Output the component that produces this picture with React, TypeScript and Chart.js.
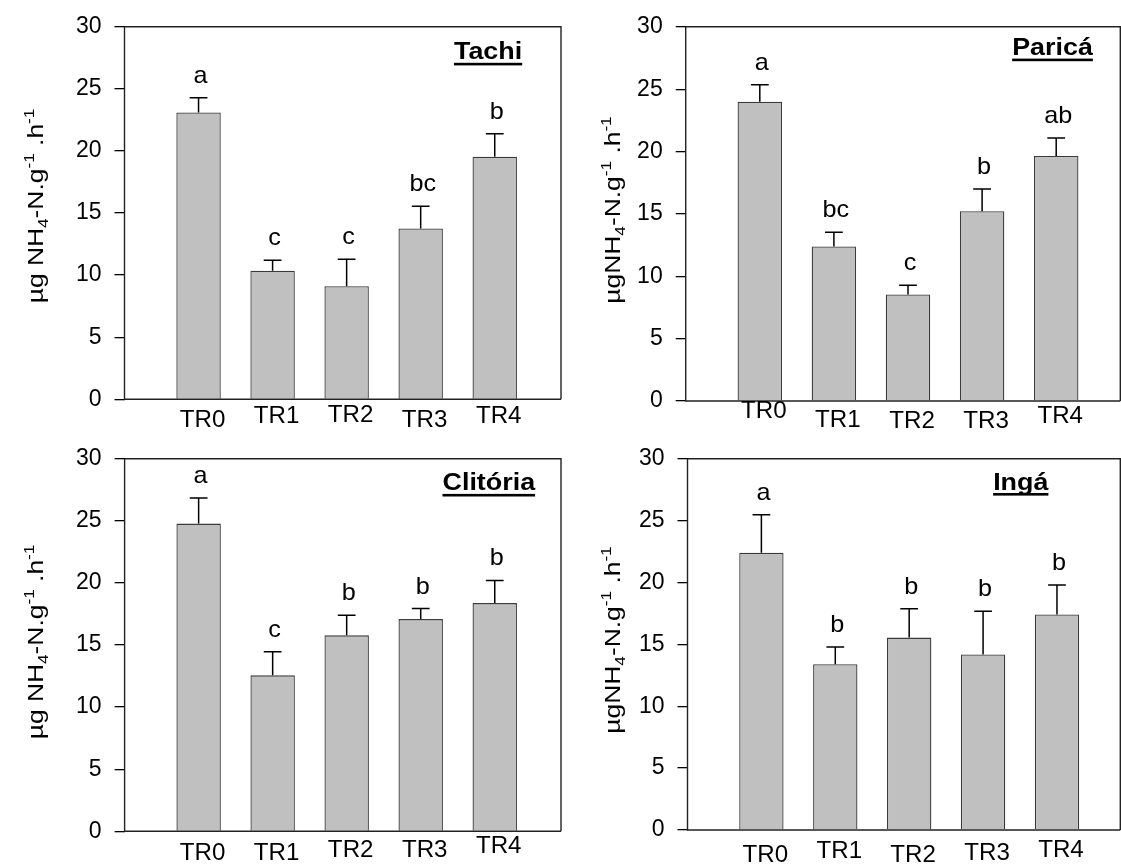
import React, { useEffect, useRef } from 'react';
import { Chart, registerables } from 'chart.js';

Chart.register(...registerables);

const FONT = '"Liberation Sans", Arial, Helvetica, sans-serif';

const CATEGORIES = ['TR0', 'TR1', 'TR2', 'TR3', 'TR4'];
const X_POSITIONS = [1, 2, 3, 4, 5];
const Y_TICKS = [0, 5, 10, 15, 20, 25, 30];

const TACHI_MEAN = [23.1, 10.36, 9.1, 13.76, 19.54];
const TACHI_SE = [1.18, 0.84, 2.18, 1.79, 1.84];
const TACHI_LETTERS = ['a', 'c', 'c', 'bc', 'b'];

const PARICA_MEAN = [23.99, 12.39, 8.54, 15.21, 19.64];
const PARICA_SE = [1.37, 1.13, 0.74, 1.79, 1.45];
const PARICA_LETTERS = ['a', 'bc', 'c', 'b', 'ab'];

const CLITORIA_MEAN = [24.78, 12.56, 15.78, 17.09, 18.38];
const CLITORIA_SE = [2.06, 1.9, 1.63, 0.85, 1.82];
const CLITORIA_LETTERS = ['a', 'c', 'b', 'b', 'b'];

const INGA_MEAN = [22.41, 13.4, 15.55, 14.18, 17.42];
const INGA_SE = [3.07, 1.39, 2.34, 3.5, 2.39];
const INGA_LETTERS = ['a', 'b', 'b', 'b', 'b'];

type Part = [string, 'n' | 'sub' | 'sup'];
const Y_TITLE_SPACED: Part[] = [['µg NH', 'n'], ['4', 'sub'], ['-N.g', 'n'], ['-1', 'sup'], [' .h', 'n'], ['-1', 'sup']];
const Y_TITLE_TIGHT: Part[] = [['µgNH', 'n'], ['4', 'sub'], ['-N.g', 'n'], ['-1', 'sup'], [' .h', 'n'], ['-1', 'sup']];

interface Box { left: number; top: number; width: number; height: number }
interface PlotBox { left: number; top: number; right: number; bottom: number }
interface Panel {
  title: string;
  mean: number[];
  se: number[];
  letters: string[];
  yTitle: Part[];
  canvas: Box;
  plot: PlotBox;
  xMax: number;
  titleX: number;
  titleDy: number;
  yTitleX: number;
  yTitleY: number;
  labelDy: number[];
}

const PANELS: Panel[] = [
  {
    title: 'Tachi', mean: TACHI_MEAN, se: TACHI_SE, letters: TACHI_LETTERS, yTitle: Y_TITLE_SPACED,
    canvas: { left: 0, top: 0, width: 580, height: 432 },
    plot: { left: 124.5, top: 20, right: 561, bottom: 399.3 }, xMax: 5.895,
    titleX: 4.91, titleDy: 32.5, yTitleX: 43, yTitleY: 206, labelDy: [27.7, 24, 22.7, 27.7, 23.7],
  },
  {
    title: 'Paricá', mean: PARICA_MEAN, se: PARICA_SE, letters: PARICA_LETTERS, yTitle: Y_TITLE_TIGHT,
    canvas: { left: 580, top: 0, width: 541, height: 432 },
    plot: { left: 685.7, top: 21.7, right: 1120.3, bottom: 401 }, xMax: 5.865,
    titleX: 4.95, titleDy: 28.3, yTitleX: 620, yTitleY: 210, labelDy: [17, 26, 27, 27, 22],
  },
  {
    title: 'Clitória', mean: CLITORIA_MEAN, se: CLITORIA_SE, letters: CLITORIA_LETTERS, yTitle: Y_TITLE_SPACED,
    canvas: { left: 0, top: 432, width: 580, height: 433 },
    plot: { left: 124.6, top: 451.7, right: 561, bottom: 831.3 }, xMax: 5.895,
    titleX: 4.92, titleDy: 31.6, yTitleX: 43, yTitleY: 642, labelDy: [28.7, 28.7, 25.7, 25.7, 21.7],
  },
  {
    title: 'Ingá', mean: INGA_MEAN, se: INGA_SE, letters: INGA_LETTERS, yTitle: Y_TITLE_TIGHT,
    canvas: { left: 580, top: 432, width: 541, height: 433 },
    plot: { left: 687.5, top: 449.3, right: 1120.3, bottom: 830 }, xMax: 5.857,
    titleX: 4.51, titleDy: 30.7, yTitleX: 620, yTitleY: 640, labelDy: [32, 28, 32, 30, 27],
  },
];

function drawStretched(ctx: CanvasRenderingContext2D, text: string, x: number, y: number, font: string, sx: number) {
  ctx.save();
  ctx.font = font;
  ctx.textAlign = 'center';
  ctx.textBaseline = 'alphabetic';
  ctx.fillStyle = '#000';
  ctx.translate(x, y);
  ctx.scale(sx, 1);
  ctx.fillText(text, 0, 0);
  const w = ctx.measureText(text).width * sx;
  ctx.restore();
  return w;
}

function drawYTitle(ctx: CanvasRenderingContext2D, parts: Part[], bx: number, cy: number, size: number, sx: number) {
  const small = size * 0.65;
  ctx.save();
  ctx.translate(bx, cy);
  ctx.rotate(-Math.PI / 2);
  ctx.scale(sx, 1);
  ctx.fillStyle = '#000';
  ctx.textAlign = 'left';
  ctx.textBaseline = 'alphabetic';
  let total = 0;
  parts.forEach(([t, k]) => {
    ctx.font = `${k === 'n' ? size : small}px ${FONT}`;
    total += ctx.measureText(t).width;
  });
  let x = -total / 2;
  parts.forEach(([t, k]) => {
    ctx.font = `${k === 'n' ? size : small}px ${FONT}`;
    const dy = k === 'sub' ? size * 0.22 : k === 'sup' ? -size * 0.42 : 0;
    ctx.fillText(t, x, dy);
    x += ctx.measureText(t).width;
  });
  ctx.restore();
}

function makeDecor(p: Panel) {
  return {
    id: 'panelDecor',
    afterDatasetsDraw(chart: any) {
      const ctx: CanvasRenderingContext2D = chart.ctx;
      const xs = chart.scales.x;
      const ys = chart.scales.y;
      const area = chart.chartArea;
      const meta = chart.getDatasetMeta(0);
      ctx.save();
      meta.data.forEach((el: any, i: number) => {
        const top = ys.getPixelForValue(p.mean[i] + p.se[i]);
        const half = el.width * 0.2;
        ctx.strokeStyle = '#000';
        ctx.lineWidth = 1.5;
        ctx.beginPath();
        ctx.moveTo(el.x, el.y);
        ctx.lineTo(el.x, top);
        ctx.moveTo(el.x - half, top);
        ctx.lineTo(el.x + half, top);
        ctx.stroke();
        drawStretched(ctx, p.letters[i], el.x + 2, top - 15, `24px ${FONT}`, 1.05);
      });
      ctx.strokeStyle = '#222';
      ctx.lineWidth = 1.4;
      ctx.beginPath();
      ctx.moveTo(area.left, area.top);
      ctx.lineTo(area.left, area.bottom);
      ctx.lineTo(area.right, area.bottom);
      ctx.moveTo(area.left, area.top);
      ctx.lineTo(area.right, area.top);
      ctx.lineTo(area.right, area.bottom);
      ctx.stroke();
      CATEGORIES.forEach((c, i) => {
        const x = xs.getPixelForValue(X_POSITIONS[i]) + 4;
        drawStretched(ctx, c, x, area.bottom + p.labelDy[i], `23px ${FONT}`, 1.05);
      });
      const tx = xs.getPixelForValue(p.titleX);
      const ty = area.top + p.titleDy;
      const w = drawStretched(ctx, p.title, tx, ty, `bold 24px ${FONT}`, 1.12);
      ctx.fillStyle = '#000';
      ctx.fillRect(tx - w / 2, ty + 3.5, w, 2.6);
      drawYTitle(ctx, p.yTitle, p.yTitleX - p.canvas.left, p.yTitleY - p.canvas.top, 22, 1.2);
      ctx.restore();
    },
  };
}

function PanelChart({ p }: { p: Panel }) {
  const ref = useRef<HTMLCanvasElement>(null);
  useEffect(() => {
    const c = p.canvas;
    const chart = new Chart(ref.current as HTMLCanvasElement, {
      type: 'bar',
      data: {
        datasets: [
          {
            data: X_POSITIONS.map((x, i) => ({ x, y: p.mean[i] })) as any,
            backgroundColor: '#c0c0c0',
            borderColor: '#3a3a3a',
            borderWidth: 1.3,
            barPercentage: 0.6,
            categoryPercentage: 1,
          },
        ],
      },
      options: {
        responsive: false,
        animation: false,
        devicePixelRatio: 1,
        layout: {
          padding: { left: 0, top: p.plot.top - c.top, right: c.left + c.width - p.plot.right, bottom: 0 },
        },
        plugins: { legend: { display: false }, tooltip: { enabled: false } },
        scales: {
          x: {
            type: 'linear',
            min: 0,
            max: p.xMax,
            offset: false,
            grid: { display: false, offset: false },
            border: { display: false },
            ticks: { display: false },
            afterBuildTicks: (s: any) => { s.ticks = X_POSITIONS.map((v) => ({ value: v })); },
            afterFit: (s: any) => { s.height = c.top + c.height - p.plot.bottom; },
          },
          y: {
            min: 0,
            max: 30,
            ticks: { stepSize: 5, color: '#000', padding: 13, font: { size: 23, family: FONT } },
            afterBuildTicks: (s: any) => { s.ticks = Y_TICKS.map((v) => ({ value: v })); },
            grid: { drawOnChartArea: false, drawTicks: true, tickLength: 10, color: '#000', lineWidth: 1.3 },
            border: { display: false },
            afterFit: (s: any) => { s.width = p.plot.left - c.left; },
          },
        } as any,
      },
      plugins: [makeDecor(p)],
    });
    return () => chart.destroy();
  }, [p]);
  const c = p.canvas;
  return (
    <canvas
      ref={ref}
      width={c.width}
      height={c.height}
      style={{ position: 'absolute', left: c.left, top: c.top, width: c.width, height: c.height }}
    />
  );
}

export default function App() {
  return (
    <div style={{ position: 'absolute', left: 0, top: 0, width: 1121, height: 865, overflow: 'hidden', background: '#fff' }}>
      {PANELS.map((p) => (
        <PanelChart key={p.title} p={p} />
      ))}
    </div>
  );
}
